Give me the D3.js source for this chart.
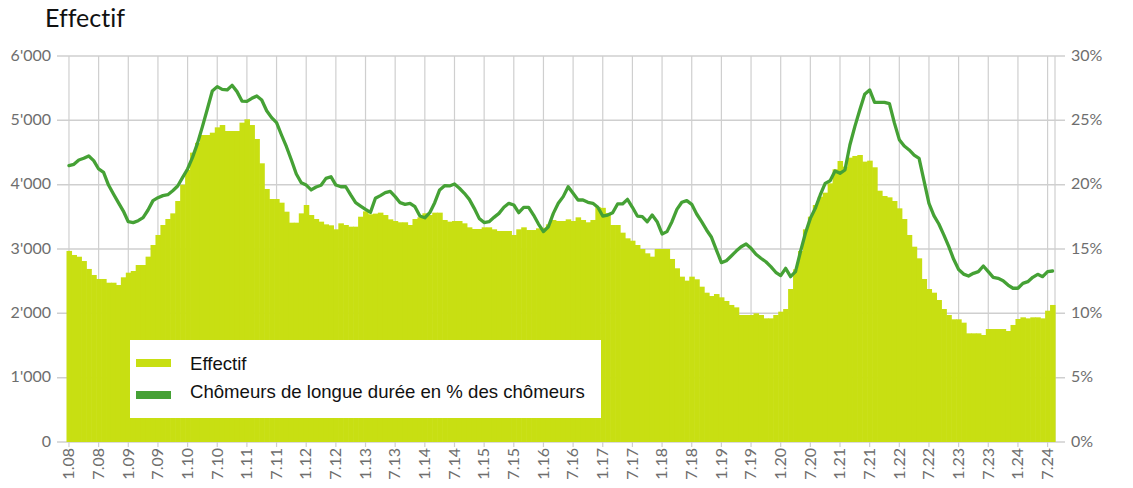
<!DOCTYPE html>
<html>
<head>
<meta charset="utf-8">
<title>Effectif</title>
<script src="https://cdn.jsdelivr.net/npm/d3@7"></script>
<style>
  body { margin: 0; background: #fff; }
  svg text { font-family: Lato, "Open Sans", sans-serif; font-variant-ligatures: none; }
  svg text.lt { font-family: "Liberation Sans", Arial, sans-serif; }
</style>
</head>
<body>
<svg width="1133" height="488"></svg>
<script>
// Effectif (nombre), mensuel 1.08 - 8.24
var effectif = [
  2970, 2907, 2880, 2813, 2690, 2596, 2534, 2534, 2476, 2476, 2440, 2560,
  2632, 2658, 2751, 2751, 2881, 3062, 3218, 3373, 3466, 3554, 3746, 4000,
  4230, 4498, 4650, 4772, 4772, 4808, 4891, 4927, 4834, 4834, 4834, 4964,
  5016, 4927, 4710, 4332, 3933, 3777, 3777, 3720, 3580, 3409, 3409, 3554,
  3684, 3528, 3466, 3425, 3383, 3368, 3306, 3399, 3373, 3347, 3347, 3502,
  3585, 3540, 3550, 3565, 3528, 3461, 3435, 3415, 3415, 3373, 3466, 3492,
  3555, 3528, 3565, 3565, 3451, 3425, 3435, 3435, 3399, 3337, 3311, 3311,
  3337, 3337, 3306, 3280, 3280, 3280, 3218, 3306, 3337, 3295, 3295, 3321,
  3330, 3383, 3451, 3435, 3435, 3461, 3435, 3492, 3451, 3415, 3451, 3650,
  3640, 3560, 3373, 3373, 3254, 3166, 3129, 3062, 3000, 2933, 2881, 3000,
  3000, 3000, 2845, 2700, 2570, 2508, 2570, 2529, 2414, 2321, 2269, 2300,
  2249, 2192, 2130, 2093, 1974, 1974, 1974, 2000, 1974, 1922, 1922, 1974,
  2026, 2067, 2378, 2684, 2969, 3306, 3502, 3684, 3813, 3876, 4021, 4239,
  4368, 4280, 4420, 4446, 4461, 4358, 4373, 4270, 3906, 3824, 3803, 3746,
  3632, 3466, 3218, 3036, 2855, 2534, 2378, 2321, 2207, 2067, 1974, 1907,
  1907, 1855, 1689, 1689, 1689, 1663, 1756, 1756, 1756, 1756, 1725, 1819,
  1912, 1938, 1922, 1938, 1938, 1922, 2041, 2130
];

// Chômeurs de longue durée en % des chômeurs
var longueDuree = [
  21.48, 21.58, 21.92, 22.05, 22.23, 21.87, 21.22, 20.96, 19.97, 19.27, 18.60, 17.95,
  17.12, 17.05, 17.20, 17.44, 18.03, 18.76, 18.99, 19.15, 19.22, 19.53, 19.90, 20.57,
  21.22, 22.12, 23.21, 24.51, 25.88, 27.28, 27.62, 27.41, 27.36, 27.72, 27.23, 26.50,
  26.48, 26.71, 26.89, 26.58, 25.75, 25.21, 24.82, 23.86, 22.95, 21.92, 20.83, 20.15,
  19.97, 19.59, 19.82, 19.95, 20.49, 20.62, 19.97, 19.84, 19.84, 19.20, 18.60, 18.34,
  18.08, 17.85, 18.94, 19.15, 19.38, 19.48, 19.07, 18.60, 18.47, 18.55, 18.29, 17.56,
  17.43, 17.82, 18.60, 19.59, 19.92, 19.90, 20.05, 19.72, 19.33, 18.86, 18.16, 17.38,
  17.05, 17.12, 17.46, 17.77, 18.24, 18.55, 18.42, 17.82, 18.24, 18.24, 17.64, 16.94,
  16.35, 16.73, 17.77, 18.55, 19.07, 19.84, 19.33, 18.81, 18.81, 18.63, 18.55, 18.24,
  17.56, 17.64, 17.82, 18.50, 18.50, 18.86, 18.24, 17.56, 17.51, 17.12, 17.64, 17.12,
  16.17, 16.35, 17.12, 18.08, 18.63, 18.76, 18.47, 17.72, 17.12, 16.48, 15.91, 14.92,
  13.94, 14.09, 14.46, 14.84, 15.18, 15.39, 15.05, 14.59, 14.28, 14.01, 13.63, 13.19,
  12.93, 13.50, 12.85, 13.24, 14.79, 16.22, 17.38, 18.16, 19.20, 20.10, 20.31, 21.06,
  20.88, 21.14, 23.08, 24.51, 25.80, 27.02, 27.36, 26.40, 26.40, 26.40, 26.30, 24.80,
  23.50, 23.00, 22.70, 22.30, 22.05, 20.30, 18.55, 17.60, 16.94, 16.10, 15.20, 14.20,
  13.40, 13.05, 12.90, 13.11, 13.24, 13.68, 13.24, 12.80, 12.72, 12.54, 12.20, 11.95,
  11.95, 12.33, 12.46, 12.80, 13.03, 12.85, 13.24, 13.29
];

var yTicks = [0, 1000, 2000, 3000, 4000, 5000, 6000];
var pctTicks = [0, 5, 10, 15, 20, 25, 30];
var legendLabels = ["Effectif", "Chômeurs de longue durée en % des chômeurs"];

// mois "m.yy"
var months = [];
for (var yr = 2008; months.length < effectif.length; yr++) {
  for (var m = 1; m <= 12 && months.length < effectif.length; m++) {
    months.push(m + "." + String(yr).slice(2));
  }
}
var xTicks = months.filter(function(d) { var mo = d.split(".")[0]; return mo === "1" || mo === "7"; });

var svg = d3.select("svg"),
    plotLeft = 66.5, plotRight = 1055, plotTop = 56, plotBottom = 442;

var x = d3.scaleBand().domain(months).range([plotLeft, plotRight]).padding(0),
    y = d3.scaleLinear().domain([0, 6000]).range([plotBottom, plotTop]),
    yR = d3.scaleLinear().domain([0, 30]).range([plotBottom, plotTop]);

var fmt = d3.formatLocale({decimal: ".", thousands: "'", grouping: [3], currency: ["", ""]}).format(",");
var cx = function(d) { return x(d) + x.bandwidth() / 2; };

var grid = "#cfcfcf", label = "#6e6e6e";

// title
svg.append("text")
    .attr("x", 45).attr("y", 27)
    .attr("font-size", 25).attr("fill", "#111")
    .text("Effectif");

// horizontal grid + ticks
svg.append("g").selectAll("line")
  .data(yTicks)
  .enter().append("line")
    .attr("x1", 57).attr("x2", 1065)
    .attr("y1", function(d) { return y(d); })
    .attr("y2", function(d) { return y(d); })
    .attr("stroke", grid).attr("stroke-width", 1.5);

// vertical grid
svg.append("g").selectAll("line")
  .data(xTicks)
  .enter().append("line")
    .attr("x1", cx).attr("x2", cx)
    .attr("y1", plotTop).attr("y2", plotBottom + 5)
    .attr("stroke", grid).attr("stroke-width", 1.2);

svg.append("line")
    .attr("x1", plotRight).attr("x2", plotRight)
    .attr("y1", plotTop).attr("y2", plotBottom)
    .attr("stroke", grid).attr("stroke-width", 1.2);

// bars
svg.append("g").selectAll("rect")
  .data(effectif)
  .enter().append("rect")
    .attr("x", function(d, i) { return x(months[i]); })
    .attr("y", function(d) { return y(d); })
    .attr("width", x.bandwidth() + 0.6)
    .attr("height", function(d) { return plotBottom - y(d); })
    .attr("fill", "#c8df12");

// line
var line = d3.line()
    .x(function(d, i) { return cx(months[i]); })
    .y(function(d) { return yR(d); });

svg.append("path")
    .datum(longueDuree)
    .attr("d", line)
    .attr("fill", "none")
    .attr("stroke", "#45a135")
    .attr("stroke-width", 3.3)
    .attr("stroke-linejoin", "round")
    .attr("stroke-linecap", "round");

// axes labels
svg.append("g").selectAll("text")
  .data(yTicks)
  .enter().append("text")
    .attr("x", 51).attr("y", function(d) { return y(d); })
    .attr("dy", "0.3em")
    .attr("text-anchor", "end")
    .attr("font-size", 16).attr("fill", label)
    .text(function(d) { return fmt(d); });

svg.append("g").selectAll("text")
  .data(pctTicks)
  .enter().append("text")
    .attr("x", 1071).attr("y", function(d) { return yR(d); })
    .attr("dy", "0.3em")
    .attr("font-size", 16).attr("fill", label)
    .text(function(d) { return d + "%"; });

svg.append("g").selectAll("text")
  .data(xTicks)
  .enter().append("text")
    .attr("transform", function(d) {
      return "translate(" + cx(d) + "," + (plotBottom + 6) + ") rotate(-90)";
    })
    .attr("dy", "0.33em")
    .attr("text-anchor", "end")
    .attr("font-size", 16).attr("fill", label)
    .text(function(d) { return d; });

// legend
var lg = svg.append("g").attr("transform", "translate(130,340)");
lg.append("rect")
    .attr("width", 471).attr("height", 78)
    .attr("fill", "#fff");

var colors = ["#c8df12", "#45a135"];
lg.selectAll(".sw")
  .data(legendLabels)
  .enter().append("rect")
    .attr("class", "sw")
    .attr("x", 6).attr("y", function(d, i) { return 19 + i * 32; })
    .attr("width", 35).attr("height", 8)
    .attr("fill", function(d, i) { return colors[i]; });

lg.selectAll(".lt")
  .data(legendLabels)
  .enter().append("text")
    .attr("class", "lt")
    .attr("x", 60).attr("y", function(d, i) { return 30 + i * 28; })
    .attr("font-size", 18.6).attr("fill", "#111")
    .text(function(d) { return d; });
</script>
</body>
</html>
